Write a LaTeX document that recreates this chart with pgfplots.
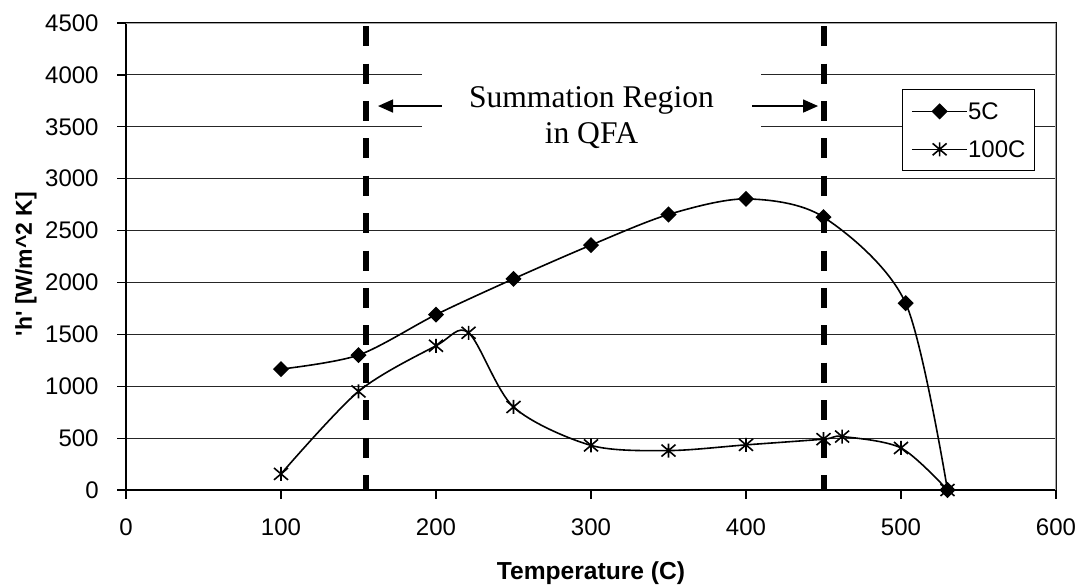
\documentclass[border=0pt]{standalone}
\usepackage{pgfplots}
\usepackage{pgfplotstable}
\pgfplotsset{compat=1.18}
\usepackage{fontspec}
\setmainfont{Liberation Sans}
\newfontfamily\timesfont{Liberation Serif}
\usetikzlibrary{arrows.meta}

% six-armed star: an X with a vertical bar
\pgfdeclareplotmark{xstar}{%
  \pgfpathmoveto{\pgfqpoint{-\pgfplotmarksize}{-0.85\pgfplotmarksize}}%
  \pgfpathlineto{\pgfqpoint{\pgfplotmarksize}{0.85\pgfplotmarksize}}%
  \pgfpathmoveto{\pgfqpoint{-\pgfplotmarksize}{0.85\pgfplotmarksize}}%
  \pgfpathlineto{\pgfqpoint{\pgfplotmarksize}{-0.85\pgfplotmarksize}}%
  \pgfpathmoveto{\pgfqpoint{0pt}{-\pgfplotmarksize}}%
  \pgfpathlineto{\pgfqpoint{0pt}{\pgfplotmarksize}}%
  \pgfusepathqstroke}

% heat transfer coefficient vs. temperature
\pgfplotstableread{
T h
100 1165
150 1300
200 1690
250 2035
300 2360
350 2655
400 2805
450 2630
503 1800
530 0
}\fivec

\pgfplotstableread{
T h
100 155
150 950
200 1390
221 1515
250 800
300 430
350 380
400 435
450 490
462 515
500 405
530 0
}\hundredc

\begin{document}
\begin{tikzpicture}
\useasboundingbox (0,0) rectangle (540.5pt,293pt);
\begin{axis}[
  at={(63pt,48pt)}, anchor=south west,
  width=465pt, height=233.5pt, scale only axis,
  xmin=0, xmax=600, ymin=0, ymax=4500,
  xtick={0,100,...,600}, ytick={0,500,...,4500},
  ymajorgrids,
  grid style={black!85, line width=0.5pt},
  axis line style={black, line width=0.8pt},
  tick align=outside, tick pos=left,
  major tick length=4.5pt,
  tick style={black, line width=0.6pt},
  /pgf/number format/assume math mode=true,
  /pgf/number format/1000 sep={},
  tick label style={font=\fontsize{12}{14}\selectfont},
  yticklabel style={anchor=east, inner sep=0pt, xshift=-9pt},
  xticklabel style={anchor=north, inner sep=0pt, yshift=-9.5pt},
  xlabel={Temperature (C)},
  ylabel={\textquotesingle h\textquotesingle{} [W/m\^{}2 K]},
  xlabel style={font=\bfseries\fontsize{12.3}{14}\selectfont,
    at={(axis description cs:0.5,-0.178)}, anchor=center},
  ylabel style={font=\bfseries\fontsize{11.5}{13}\selectfont,
    at={(axis description cs:-0.1075,0.484)}, anchor=center},
  legend style={at={(axis description cs:0.834,0.858)}, anchor=north west,
    draw=black, line width=0.5pt, fill=white,
    font=\fontsize{12}{14}\selectfont,
    inner xsep=4.5pt, inner ysep=6.5pt, row sep=10.5pt,
    nodes={inner xsep=0pt, inner ysep=0pt, text height=8.5pt, text depth=0pt},
    /tikz/every even column/.append style={column sep=2.9pt}},
  legend cell align=left,
  legend image code/.code={\draw (0pt,0pt) -- (27.7pt,0pt);
    \draw plot[only marks] coordinates {(13.85pt,0pt)};},
]
% summation region boundaries
\addplot[forget plot, black, line width=3pt, dash pattern=on 10pt off 8.7pt] coordinates {(155,4470) (155,0)};
\addplot[forget plot, black, line width=3pt, dash pattern=on 10pt off 8.7pt] coordinates {(450,4470) (450,0)};

\addplot[black, line width=0.8pt, smooth, mark=square*, mark size=2.45pt,
  mark options={rotate=45, solid, fill=black}] table[x=T, y=h] {\fivec};
\addlegendentry{5C}
\addplot[black, line width=0.8pt, smooth, mark=xstar, mark size=3.5pt,
  mark options={solid, line width=0.8pt}] table[x=T, y=h] {\hundredc};
\addlegendentry{100C}

% plot area border
\draw[gray!70, line width=0.8pt] (rel axis cs:0,1) -- (rel axis cs:1,1) -- (rel axis cs:1,0);

% annotation
\node[fill=white, inner sep=0pt, minimum width=169.5pt, minimum height=46pt,
  align=center, font=\timesfont\fontsize{15.8}{18}\selectfont]
  at (axis cs:300.3,3586) {Summation Region\\in QFA};
\draw[-{Triangle[length=7.5pt,width=6.5pt]}, line width=0.75pt]
  (axis cs:203.7,3700) -- (axis cs:162.6,3700);
\draw[-{Triangle[length=7.5pt,width=6.5pt]}, line width=0.75pt]
  (axis cs:403.9,3700) -- (axis cs:446.5,3700);
\end{axis}
\end{tikzpicture}
\end{document}
